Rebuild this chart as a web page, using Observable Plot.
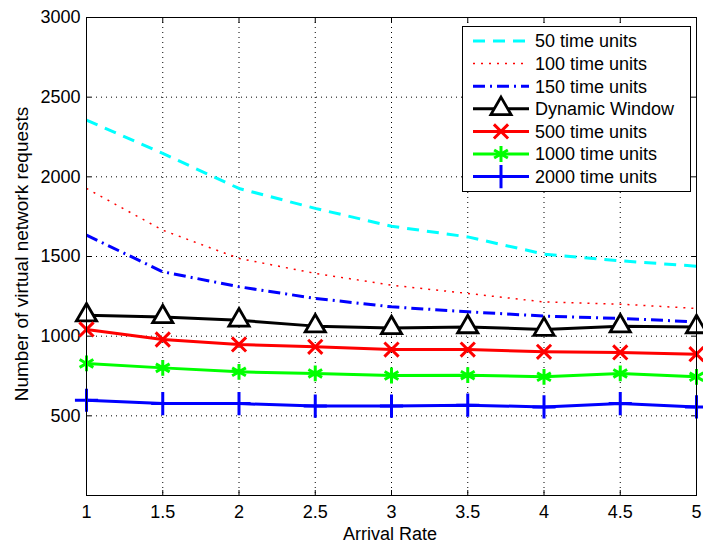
<!DOCTYPE html>
<html>
<head>
<meta charset="utf-8">
<script src="https://cdn.jsdelivr.net/npm/d3@7"></script>
<script src="https://cdn.jsdelivr.net/npm/@observablehq/plot@0.6"></script>
<style>
  html, body { margin: 0; padding: 0; background: white; }
</style>
</head>
<body>
<div id="chart"></div>
<script>
const arrivalRates = [1, 1.5, 2, 2.5, 3, 3.5, 4, 4.5, 5];
const yTicks = [500, 1000, 1500, 2000, 2500, 3000];
const seriesNames = ["50 time units", "100 time units", "150 time units", "Dynamic Window", "500 time units", "1000 time units", "2000 time units"];
const s50   = [2356, 2147, 1927, 1802, 1690, 1623, 1515, 1473, 1439];
const s100  = [1927, 1665, 1488, 1394, 1320, 1268, 1215, 1201, 1174];
const s150  = [1634, 1404, 1310, 1237, 1184, 1153, 1126, 1111, 1090];
const sDyn  = [1132, 1121, 1100, 1063, 1052, 1058, 1042, 1063, 1058];
const s500  = [1042,  979,  948,  933,  916,  916,  902,  898,  887];
const s1000 = [ 829,  801,  776,  766,  753,  755,  745,  766,  745];
const s2000 = [ 598,  577,  577,  561,  561,  567,  556,  577,  556];

const styles = [
  {values: s50,   color: "#00ffff", width: 3,   dash: "12,8",        symbol: null},
  {values: s100,  color: "#ff0000", width: 1.5, dash: "2,6",         symbol: null},
  {values: s150,  color: "#0000ff", width: 3,   dash: "12,5,2,5",    symbol: null},
  {values: sDyn,  color: "#000000", width: 3,   dash: null,          symbol: "triangle", r: 7.5, fill: "white", sw: 2.8},
  {values: s500,  color: "#ff0000", width: 3,   dash: null,          symbol: "times",    r: 6.5, fill: "none",  sw: 3},
  {values: s1000, color: "#00ff00", width: 3,   dash: null,          symbol: "asterisk", r: 7.5, fill: "none",  sw: 3},
  {values: s2000, color: "#0000ff", width: 3,   dash: null,          symbol: "plus",     r: 7.5, fill: "none",  sw: 3}
];

const tables = styles.map((s, i) => arrivalRates.map((x, j) => ({x, y: s.values[j], series: seriesNames[i]})));

const font = "'Liberation Sans', Arial, Helvetica, sans-serif";
const fmt = d => String(d);
const marks = [
  Plot.gridX(arrivalRates, {stroke: "black", strokeOpacity: 1, strokeDasharray: "1,4", strokeWidth: 1}),
  Plot.gridY(yTicks, {stroke: "black", strokeOpacity: 1, strokeDasharray: "1,4", strokeWidth: 1}),
  Plot.axisX({anchor: "bottom", ticks: arrivalRates, tickSize: 0, tickPadding: 10, tickFormat: fmt, label: null, fontSize: 18}),
  Plot.axisY({anchor: "left", ticks: yTicks, tickSize: 0, tickPadding: 6, tickFormat: fmt, label: null, fontSize: 18}),
  Plot.axisX({anchor: "bottom", ticks: arrivalRates, tickSize: -5, tickFormat: () => "", label: null}),
  Plot.axisX({anchor: "top", ticks: arrivalRates, tickSize: -5, tickFormat: () => "", label: null}),
  Plot.axisY({anchor: "left", ticks: yTicks, tickSize: -5, tickFormat: () => "", label: null}),
  Plot.axisY({anchor: "right", ticks: yTicks, tickSize: -5, tickFormat: () => "", label: null}),
];
styles.forEach((s, i) => {
  marks.push(Plot.line(tables[i], {x: "x", y: "y", stroke: s.color, strokeWidth: s.width, strokeDasharray: s.dash || undefined, strokeLinecap: "butt", strokeLinejoin: "round"}));
});
styles.forEach((s, i) => {
  if (s.symbol) marks.push(Plot.dot(tables[i], {x: "x", y: "y", symbol: () => s.symbol, r: s.r, stroke: s.color, fill: s.fill, strokeWidth: s.sw}));
});
marks.push(Plot.frame({stroke: "black", strokeWidth: 1}));

const chart = Plot.plot({
  width: 703,
  height: 544,
  marginLeft: 86,
  marginRight: 7,
  marginTop: 17,
  marginBottom: 49,
  style: {fontFamily: font, fontSize: "18px", background: "white", color: "black"},
  x: {domain: [1, 5]},
  y: {domain: [0, 3000]},
  symbol: {type: "identity"},
  marks
});
document.getElementById("chart").appendChild(chart);

// axis titles and legend
const svg = d3.select(chart);
svg.append("text").attr("x", 390).attr("y", 540).attr("text-anchor", "middle")
  .style("font-family", font).style("font-size", "18px").attr("fill", "black").text("Arrival Rate");
svg.append("text").attr("transform", "translate(28,254) rotate(-90)").attr("text-anchor", "middle")
  .style("font-family", font).style("font-size", "19px").attr("fill", "black").text("Number of virtual network requests");

const lg = svg.append("g");
lg.append("rect").attr("x", 462.5).attr("y", 26.5).attr("width", 228).attr("height", 165)
  .attr("fill", "white").attr("stroke", "black").attr("stroke-width", 1);
const symMap = {triangle: d3.symbolTriangle, times: d3.symbolTimes, asterisk: d3.symbolAsterisk, plus: d3.symbolPlus};
styles.forEach((s, i) => {
  const y = 41 + i * 22.6;
  lg.append("line").attr("x1", 473).attr("x2", 529).attr("y1", y).attr("y2", y)
    .attr("stroke", s.color).attr("stroke-width", s.width)
    .attr("stroke-dasharray", s.dash || null);
  if (s.symbol) {
    lg.append("path").attr("transform", `translate(501,${y})`)
      .attr("d", d3.symbol(symMap[s.symbol], Math.PI * s.r * s.r)())
      .attr("fill", s.fill).attr("stroke", s.color).attr("stroke-width", s.sw);
  }
  lg.append("text").attr("x", 535).attr("y", y).attr("dy", "0.35em").attr("text-anchor", "start")
    .style("font-family", font).style("font-size", "18px").attr("fill", "black").text(seriesNames[i]);
});
</script>
</body>
</html>
